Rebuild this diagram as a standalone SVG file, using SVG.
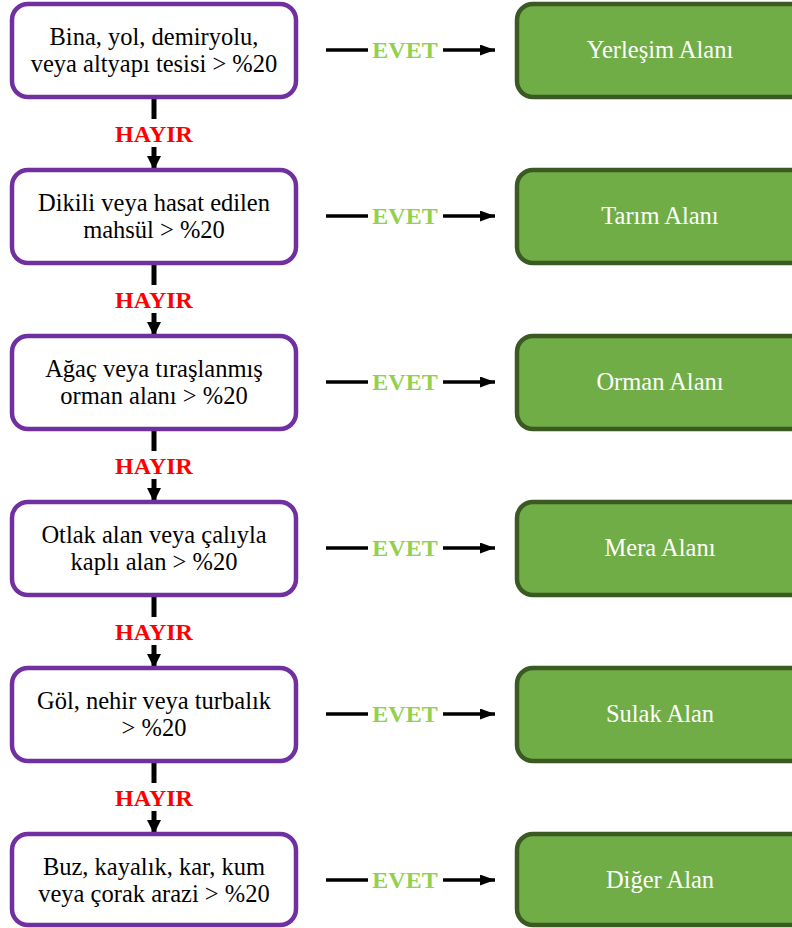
<svg xmlns="http://www.w3.org/2000/svg" width="792" height="928" viewBox="0 0 792 928" font-family="'Liberation Serif', 'Times New Roman', serif">
<defs>
<style>
.q{fill:#ffffff;stroke:#7030A0;stroke-width:4.5}
.r{fill:#70AD47;stroke:#3B5A22;stroke-width:4.5}
.qt{font-size:24.5px;fill:#000;text-anchor:middle}
.rt{font-size:24.5px;fill:#fff;text-anchor:middle}
.no{font-size:24px;font-weight:bold;fill:#FF0000;text-anchor:middle}
.yes{font-size:24px;font-weight:bold;fill:#92D050;text-anchor:middle}
.v{stroke:#000;stroke-width:5;fill:none}
.h{stroke:#000;stroke-width:3.5;fill:none}
</style>
<marker id="ad" markerUnits="userSpaceOnUse" markerWidth="16" markerHeight="14" refX="14" refY="7" orient="auto">
<path d="M0,0 L14,7 L0,14 Z" fill="#000"/>
</marker>
<marker id="ar" markerUnits="userSpaceOnUse" markerWidth="16" markerHeight="12" refX="15" refY="5.5" orient="auto">
<path d="M0,0 L15,5.5 L0,11 Z" fill="#000"/>
</marker>
</defs>

<g id="connectors">
<g id="v1"><line class="v" x1="154" y1="97" x2="154" y2="119"/><line class="v" x1="154" y1="147" x2="154" y2="170" marker-end="url(#ad)"/><text class="no" x="154" y="142">HAYIR</text></g>
<g id="v2"><line class="v" x1="154" y1="263" x2="154" y2="285"/><line class="v" x1="154" y1="313" x2="154" y2="336" marker-end="url(#ad)"/><text class="no" x="154" y="308">HAYIR</text></g>
<g id="v3"><line class="v" x1="154" y1="429" x2="154" y2="451"/><line class="v" x1="154" y1="479" x2="154" y2="502" marker-end="url(#ad)"/><text class="no" x="154" y="474">HAYIR</text></g>
<g id="v4"><line class="v" x1="154" y1="595" x2="154" y2="617"/><line class="v" x1="154" y1="645" x2="154" y2="668" marker-end="url(#ad)"/><text class="no" x="154" y="640">HAYIR</text></g>
<g id="v5"><line class="v" x1="154" y1="761" x2="154" y2="783"/><line class="v" x1="154" y1="811" x2="154" y2="834" marker-end="url(#ad)"/><text class="no" x="154" y="806">HAYIR</text></g>

<g id="h1"><line class="h" x1="326" y1="50" x2="368" y2="50"/><line class="h" x1="443" y1="50" x2="495" y2="50" marker-end="url(#ar)"/><text class="yes" x="405" y="58">EVET</text></g>
<g id="h2"><line class="h" x1="326" y1="216" x2="368" y2="216"/><line class="h" x1="443" y1="216" x2="495" y2="216" marker-end="url(#ar)"/><text class="yes" x="405" y="224">EVET</text></g>
<g id="h3"><line class="h" x1="326" y1="382" x2="368" y2="382"/><line class="h" x1="443" y1="382" x2="495" y2="382" marker-end="url(#ar)"/><text class="yes" x="405" y="390">EVET</text></g>
<g id="h4"><line class="h" x1="326" y1="548" x2="368" y2="548"/><line class="h" x1="443" y1="548" x2="495" y2="548" marker-end="url(#ar)"/><text class="yes" x="405" y="556">EVET</text></g>
<g id="h5"><line class="h" x1="326" y1="714" x2="368" y2="714"/><line class="h" x1="443" y1="714" x2="495" y2="714" marker-end="url(#ar)"/><text class="yes" x="405" y="722">EVET</text></g>
<g id="h6"><line class="h" x1="326" y1="880" x2="368" y2="880"/><line class="h" x1="443" y1="880" x2="495" y2="880" marker-end="url(#ar)"/><text class="yes" x="405" y="888">EVET</text></g>
</g>

<g id="q1"><rect class="q" x="12" y="4" width="284" height="93" rx="16"/><text class="qt" x="154" y="45">Bina, yol, demiryolu,</text><text class="qt" x="154" y="72">veya altyapı tesisi &gt; %20</text></g>
<g id="q2"><rect class="q" x="12" y="170" width="284" height="93" rx="16"/><text class="qt" x="154" y="211">Dikili veya hasat edilen</text><text class="qt" x="154" y="238">mahsül &gt; %20</text></g>
<g id="q3"><rect class="q" x="12" y="336" width="284" height="93" rx="16"/><text class="qt" x="154" y="377">Ağaç veya tıraşlanmış</text><text class="qt" x="154" y="404">orman alanı &gt; %20</text></g>
<g id="q4"><rect class="q" x="12" y="502" width="284" height="93" rx="16"/><text class="qt" x="154" y="543">Otlak alan veya çalıyla</text><text class="qt" x="154" y="570">kaplı alan &gt; %20</text></g>
<g id="q5"><rect class="q" x="12" y="668" width="284" height="93" rx="16"/><text class="qt" x="154" y="709">Göl, nehir veya turbalık</text><text class="qt" x="154" y="736">&gt; %20</text></g>
<g id="q6"><rect class="q" x="12" y="834" width="284" height="91" rx="16"/><text class="qt" x="154" y="875">Buz, kayalık, kar, kum</text><text class="qt" x="154" y="902">veya çorak arazi &gt; %20</text></g>

<g id="r1"><rect class="r" x="517" y="4" width="290" height="93" rx="16"/><text class="rt" x="660" y="58">Yerleşim Alanı</text></g>
<g id="r2"><rect class="r" x="517" y="170" width="290" height="93" rx="16"/><text class="rt" x="660" y="224">Tarım Alanı</text></g>
<g id="r3"><rect class="r" x="517" y="336" width="290" height="93" rx="16"/><text class="rt" x="660" y="390">Orman Alanı</text></g>
<g id="r4"><rect class="r" x="517" y="502" width="290" height="93" rx="16"/><text class="rt" x="660" y="556">Mera Alanı</text></g>
<g id="r5"><rect class="r" x="517" y="668" width="290" height="93" rx="16"/><text class="rt" x="660" y="722">Sulak Alan</text></g>
<g id="r6"><rect class="r" x="517" y="834" width="290" height="91" rx="16"/><text class="rt" x="660" y="888">Diğer Alan</text></g>
</svg>
